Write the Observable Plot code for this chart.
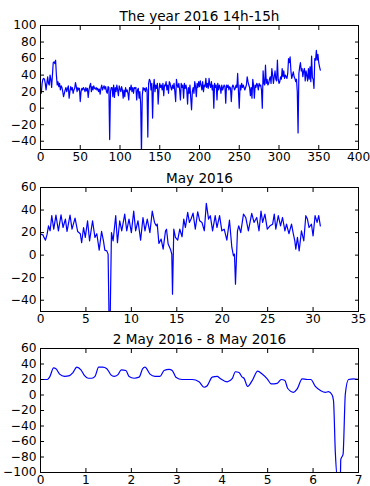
<!DOCTYPE html>
<html>
<head>
<meta charset="utf-8">
<script src="https://cdn.jsdelivr.net/npm/d3@7"></script>
<script src="https://cdn.jsdelivr.net/npm/@observablehq/plot@0.6"></script>
<style>
  html, body { margin: 0; padding: 0; background: #fff; }
  #chart { position: relative; width: 370px; height: 486px; overflow: hidden; background: #fff; }
  #chart > div, #chart > svg { position: absolute; left: 0; }
</style>
</head>
<body>
<div id="chart"></div>
<script>
// ---- Panel 1: the year 2016, 14h-15h (one value per day, index = day) ----
const yearTitle = "The year 2016 14h-15h";
const yearValues = [
  20, 18, 30, 35, 36, 35, 30, 22, 30, 38,
  30, 28, 40, 35, 25, 40, 55, 56, 54, 58,
  40, 28, 32, 26, 30, 22, 27, 25, 20, 14,
  18, 22, 25, 20, 24, 27, 12, 20, 26, 22,
  25, 18, 22, 24, 31, 26, 20, 25, 22, 24,
  8, 20, 24, 22, 25, 23, 20, 25, 21, 24,
  13, 22, 27, 30, 20, 26, 22, 27, 24, 23,
  25, 22, 24, 20, 23, 17, 24, 28, 22, 25,
  27, 23, 26, 20, 18, 26, 25, -38, 20, 25,
  25, 14, 28, 13, 25, 20, 28, 22, 15, 27,
  23, 20, 26, 22, 12, 22, 14, 25, 20, 22,
  18, 10, 25, 22, 28, 20, 25, 18, 25, 24,
  25, 10, 22, 24, 12, 20, 5, -55, 15, 25,
  22, 24, 20, 25, 22, -35, 30, 35, 33, 22,
  30, -12, 25, 35, 20, 28, 24, 30, 5, 22,
  30, 25, 28, 22, 30, 15, 28, 27, 32, 22,
  28, 18, 32, 30, 25, 22, 28, 24, 30, 20,
  8, 35, 28, 25, 30, 22, 10, 30, 25, 28,
  12, 30, 24, 28, 22, 5, 25, 18, 28, 12,
  -2, 20, 25, 18, 32, 26, 14, 30, 25, 32,
  26, 33, 28, 22, 32, 20, 28, 26, 36, 25,
  30, 24, 36, 28, 25, 32, 22, 28, 0, 30,
  25, 28, 10, 30, 22, 28, 25, 18, 28, 22,
  25, 28, 26, 6, 28, 25, 28, 22, 26, 24,
  8, 25, 28, 26, 22, 24, 28, 25, 42, 20,
  0, 28, 22, 30, 25, 28, 25, 22, 25, 28,
  38, 32, 28, 25, 15, 25, 12, 35, 28, 12,
  28, 25, 30, 28, 22, 30, 27, 28, 22, 0,
  45, 30, 28, 52, 30, 35, 28, 30, 35, 38,
  30, 48, 40, 30, 38, 45, 35, 33, 58, 35,
  30, 32, 38, 35, 48, 38, 45, 36, 40, 38,
  36, 42, 60, 55, 62, 45, 36, 40, 44, 38,
  36, 32, 35, 20, -30, 42, 50, 55, 45, 48,
  38, 45, 48, 33, 45, 40, 33, 48, 35, 50,
  32, 63, 37, 35, 24, 60, 58, 70, 58, 65,
  55, 50, 46
];
const yearXTicks = [0, 50, 100, 150, 200, 250, 300, 350, 400];
const yearYTicks = [-40, -20, 0, 20, 40, 60, 80, 100];
const yearXDomain = [0, 400];
const yearYDomain = [-50, 100];

// ---- Panel 2: May 2016 (day of month, value) read at turning points ----
const mayTitle = "May 2016";
const mayDays = [
  0, 0.26, 0.37, 0.55, 0.73, 0.88, 1.06, 1.24, 1.46, 1.7, 1.97, 2.26, 2.48, 2.74, 2.92,
  3.25, 3.47, 3.8, 4.09, 4.38, 4.53, 4.74, 4.93, 5.18, 5.4, 5.73, 5.99, 6.2, 6.46, 6.72,
  6.93, 7.08, 7.3, 7.44, 7.55, 7.66, 7.81, 7.99, 8.28, 8.47, 8.72, 8.94, 9.27, 9.49, 9.74,
  10, 10.26, 10.47, 10.73, 11.02, 11.28, 11.5, 11.75, 12.04, 12.3, 12.55, 12.74, 12.85, 13.03, 13.28,
  13.5, 13.76, 13.87, 14.05, 14.3, 14.45, 14.53, 14.67, 14.85, 15.1, 15.33, 15.58, 15.77, 15.95, 16.2,
  16.39, 16.57, 16.79, 17.04, 17.3, 17.52, 17.77, 18.03, 18.25, 18.5, 18.69, 18.94, 19.23, 19.42, 19.71,
  19.96, 20.22, 20.51, 20.8, 21.06, 21.24, 21.35, 21.46, 21.68, 21.82, 22.04, 22.34, 22.59, 22.88, 23.25,
  23.5, 23.8, 24.05, 24.27, 24.45, 24.7, 24.96, 25.26, 25.55, 25.73, 25.9, 26.17, 26.42, 26.64, 26.9,
  27.08, 27.34, 27.63, 27.8, 27.99, 28.1, 28.28, 28.47, 28.72, 28.98, 29.2, 29.38, 29.56, 29.82, 30,
  30.22, 30.44, 30.62, 30.8
];
const mayValues = [
  18.6, 18, 16, 13.3, 18.6, 26, 21.6, 35, 23, 35.5, 21.6, 35.8, 24.5, 32, 21,
  35.5, 23, 32.8, 21, 19, 11, 24.5, 15.7, 30.5, 12.7, 30.5, 15.7, 19, 4.4, 21,
  12.7, 4.4, 3.8, 0.9, -60, -60, 20, 12.7, 35, 11, 30.5, 21.6, 36.4, 21.6, 32,
  20, 39, 21.6, 30.5, 13.3, 33.4, 21.6, 32, 20, 39, 29, 26, 27.5, 10.4, 14.2,
  5.3, 21.6, 23, 9.8, 5.3, 0.9, -34.6, 23, 15.7, 13.3, 23, 16.3, 32, 24.5, 37.9,
  29, 32, 37.3, 23, 38.5, 30.5, 29, 21.6, 45.9, 32, 35, 21.6, 35, 24.5, 35,
  21.6, 23, 13.3, 31, 6.8, -0.6, 0.9, -25.7, 21.6, 26, 20, 36.4, 33.4, 21.6, 37,
  29, 33.4, 21.6, 39, 29, 36.4, 23, 26, 27.5, 36.4, 23, 35, 26, 33.4, 21.6,
  27.5, 19, 27.5, 20, 12.7, 5.3, 15.7, 3.8, 21.6, 12.7, 35, 32, 24.5, 27.5, 17,
  35, 29, 35, 26
];
const mayXTicks = [0, 5, 10, 15, 20, 25, 30, 35];
const mayYTicks = [-40, -20, 0, 20, 40, 60];
const mayXDomain = [0, 35];
const mayYDomain = [-50, 60];

// ---- Panel 3: 2 May 2016 - 8 May 2016 (days since start, value) ----
const weekTitle = "2 May 2016 - 8 May 2016";
const weekDays = [
  0, 0.15, 0.2, 0.29, 0.34, 0.42, 0.53, 0.64, 0.71, 0.8, 0.89, 0.97, 1.05, 1.13, 1.2,
  1.28, 1.37, 1.46, 1.55, 1.62, 1.7, 1.78, 1.88, 1.95, 2.06, 2.17, 2.25, 2.3, 2.41, 2.52,
  2.63, 2.72, 2.83, 2.9, 2.98, 3.12, 3.34, 3.49, 3.6, 3.67, 3.78, 3.89, 3.95, 4.11, 4.22,
  4.29, 4.37, 4.44, 4.48, 4.56, 4.66, 4.78, 4.88, 4.99, 5.08, 5.21, 5.3, 5.38, 5.44, 5.57,
  5.65, 5.76, 5.87, 5.95, 6.05, 6.17, 6.27, 6.34, 6.42, 6.45, 6.49, 6.54, 6.6, 6.61, 6.66,
  6.71, 6.78, 6.89, 7
];
const weekValues = [
  20, 20, 23, 35, 34, 27, 24, 25, 28.6, 36, 32.5, 25, 21.6, 21.6, 24,
  36, 36, 34, 26, 24, 26, 32.5, 31.6, 23.8, 21.6, 23, 34, 36, 27, 24,
  24, 31.6, 33, 31.6, 23, 20, 20, 17, 10, 12, 23, 24, 21.6, 17, 21,
  30, 29, 23, 21.6, 11, 18.6, 30.7, 27, 20.8, 14.3, 15, 20, 18.6, 8.7, 3.5,
  7.8, 20.8, 20, 20, 11, 5.6, 3.5, 4.3, 0, -7.4, -74, -108, -108, -83, -76.6,
  1.3, 20, 20.8, 20
];
const weekXTicks = [0, 1, 2, 3, 4, 5, 6, 7];
const weekYTicks = [-100, -80, -60, -40, -20, 0, 20, 40, 60];
const weekXDomain = [0, 7];
const weekYDomain = [-100, 60];

const LINE_COLOR = "#0000ff";

function panel({title, data, xDomain, yDomain, xTicks, yTicks, height, marginTop, marginBottom, curve}) {
  const noText = () => "";
  return Plot.plot({
    width: 370,
    height,
    marginLeft: 40,
    marginRight: 12,
    marginTop,
    marginBottom,
    style: {fontFamily: "'DejaVu Sans', sans-serif", fontSize: "12px", color: "#000", background: "transparent", overflow: "visible"},
    x: {domain: xDomain, label: null},
    y: {domain: yDomain, label: null},
    marks: [
      Plot.line(data, {x: "x", y: "y", stroke: LINE_COLOR, strokeWidth: 1.2, clip: true, curve}),
      Plot.frame({stroke: "#000", strokeWidth: 1}),
      Plot.axisX(xTicks, {anchor: "bottom", tickSize: 0, tickPadding: 3, label: null, fill: "#000", fontSize: 12.2}),
      Plot.axisY(yTicks, {anchor: "left", tickSize: 0, tickPadding: 4, label: null, fill: "#000", fontSize: 12.2}),
      Plot.axisX(xTicks, {anchor: "bottom", tickSize: 4, dy: -4, tickFormat: noText, label: null, stroke: "#000"}),
      Plot.axisX(xTicks, {anchor: "top", tickSize: 4, dy: 4, tickFormat: noText, label: null, stroke: "#000"}),
      Plot.axisY(yTicks, {anchor: "left", tickSize: 4, dx: 4, tickFormat: noText, label: null, stroke: "#000"}),
      Plot.axisY(yTicks, {anchor: "right", tickSize: 4, dx: -4, tickFormat: noText, label: null, stroke: "#000"}),
      Plot.text([title], {frameAnchor: "top", lineAnchor: "bottom", dy: -5, fontSize: 13.6, fill: "#000"})
    ]
  });
}

const chart = document.getElementById("chart");

const p1 = panel({
  title: yearTitle,
  data: yearValues.map((v, i) => ({x: i, y: v})),
  xDomain: yearXDomain, yDomain: yearYDomain, xTicks: yearXTicks, yTicks: yearYTicks,
  height: 165, marginTop: 25, marginBottom: 16, curve: "linear"
});
p1.style.top = "0px";
chart.appendChild(p1);

const p2 = panel({
  title: mayTitle,
  data: mayDays.map((d, i) => ({x: d, y: mayValues[i]})),
  xDomain: mayXDomain, yDomain: mayYDomain, xTicks: mayXTicks, yTicks: mayYTicks,
  height: 160, marginTop: 22, marginBottom: 14, curve: "linear"
});
p2.style.top = "165px";
chart.appendChild(p2);

const p3 = panel({
  title: weekTitle,
  data: weekDays.map((d, i) => ({x: d, y: weekValues[i]})),
  xDomain: weekXDomain, yDomain: weekYDomain, xTicks: weekXTicks, yTicks: weekYTicks,
  height: 161, marginTop: 23, marginBottom: 14, curve: "monotone-x"
});
p3.style.top = "325px";
chart.appendChild(p3);
</script>
</body>
</html>
